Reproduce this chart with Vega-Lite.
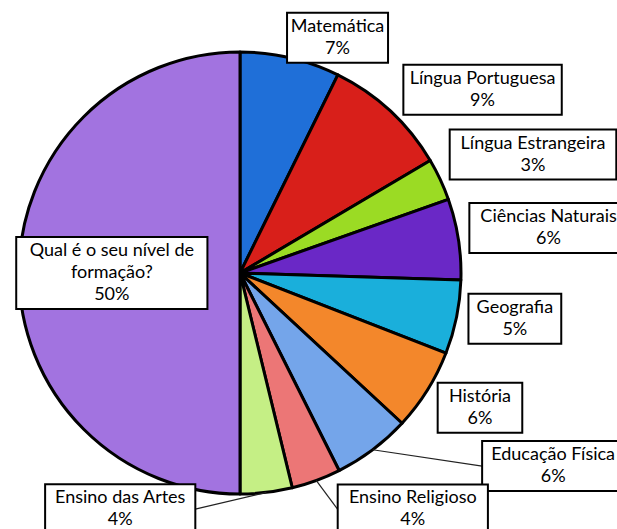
{
  "$schema": "https://vega.github.io/schema/vega-lite/v6.json",
  "width": 617,
  "height": 529,
  "padding": 0,
  "autosize": {"type": "none"},
  "background": "white",
  "config": {"view": {"stroke": null}},
  "data": {
    "values": [
      {"cat": "Matemática", "value": 7.3},
      {"cat": "Língua Portuguesa", "value": 9.2},
      {"cat": "Língua Estrangeira", "value": 3.1},
      {"cat": "Ciências Naturais", "value": 5.9},
      {"cat": "Geografia", "value": 5.4},
      {"cat": "História", "value": 6.0},
      {"cat": "Educação Física", "value": 5.7},
      {"cat": "Ensino Religioso", "value": 3.6},
      {"cat": "Ensino das Artes", "value": 3.8},
      {"cat": "Qual é o seu nível de\nformação?", "value": 50}
    ]
  },
  "transform": [
    {"window": [{"op": "sum", "field": "value", "as": "end"}, {"op": "row_number", "as": "i"}]},
    {"calculate": "datum.end - datum.value", "as": "start"},
    {"calculate": "(datum.start + datum.value / 2) / 100 * 2 * PI", "as": "a"},
    {"calculate": "format(datum.value / 100, '.0%')", "as": "pct"},
    {"calculate": "split(datum.cat, '\\n')", "as": "ls"},
    {"calculate": "length(datum.ls) + 1", "as": "nl"},
    {"calculate": "length(datum.ls[0]) * 8.2 + 19", "as": "w"},
    {"calculate": "datum.nl * 22 + 6", "as": "h"},
    {"calculate": "datum.cat + '\\n' + datum.pct", "as": "txt"},
    {"calculate": "[34, 33, 10, 4, 5, 10, 133, 68, -156, 0][datum.i - 1]", "as": "nx"},
    {"calculate": "[12, 3, -11, -6, -5, 0, -10, -2, -16, 0][datum.i - 1]", "as": "ny"},
    {"calculate": "datum.value > 25 ? 0.58 * 221 * sin(datum.a) : (229 + datum.w / 2) * sin(datum.a) + datum.nx", "as": "bx"},
    {"calculate": "datum.value > 25 ? -0.58 * 221 * cos(datum.a) : -(229 + datum.h / 2) * cos(datum.a) + datum.ny", "as": "by"},
    {"calculate": "datum.by - (datum.nl - 1) * 11", "as": "ty"},
    {"calculate": "datum.bx - datum.w / 2", "as": "bx1"},
    {"calculate": "datum.bx + datum.w / 2", "as": "bx2"},
    {"calculate": "datum.by - datum.h / 2", "as": "by1"},
    {"calculate": "datum.by + datum.h / 2", "as": "by2"},
    {"calculate": "221 * sin(datum.a)", "as": "ex"},
    {"calculate": "-221 * cos(datum.a)", "as": "ey"},
    {"calculate": "datum.bx > datum.ex ? datum.bx1 : datum.bx2", "as": "lx"},
    {"calculate": "abs(datum.nx) > 50", "as": "lead"}
  ],
  "layer": [
    {
      "mark": {"type": "arc", "outerRadius": 221, "stroke": "black", "strokeWidth": 3, "strokeJoin": "round"},
      "encoding": {
        "theta": {"field": "start", "type": "quantitative", "scale": {"domain": [0, 100]}},
        "theta2": {"field": "end"},
        "x": {"datum": 0, "type": "quantitative", "axis": null, "scale": {"domain": [-240, 377], "nice": false, "zero": false}},
        "y": {"datum": 0, "type": "quantitative", "axis": null, "scale": {"domain": [-273, 256], "nice": false, "zero": false, "reverse": true}},
        "color": {
          "field": "cat",
          "type": "nominal",
          "legend": null,
          "scale": {
            "domain": ["Matemática", "Língua Portuguesa", "Língua Estrangeira", "Ciências Naturais", "Geografia", "História", "Educação Física", "Ensino Religioso", "Ensino das Artes", "Qual é o seu nível de\nformação?"],
            "range": ["#1f6fd8", "#d81f1a", "#9bdb24", "#6a28c6", "#1aafdb", "#f3872b", "#74a5ea", "#ec7676", "#c5ef85", "#a273e0"]
          }
        }
      }
    },
    {
      "transform": [{"filter": "datum.lead"}],
      "mark": {"type": "rule", "stroke": "#222222", "strokeWidth": 1.2},
      "encoding": {
        "x": {"field": "ex", "type": "quantitative", "axis": null, "scale": {"domain": [-240, 377], "nice": false, "zero": false}},
        "y": {"field": "ey", "type": "quantitative", "axis": null, "scale": {"domain": [-273, 256], "nice": false, "zero": false, "reverse": true}},
        "x2": {"field": "lx"},
        "y2": {"field": "by"}
      }
    },
    {
      "mark": {"type": "rect", "fill": "white", "stroke": "black", "strokeWidth": 2},
      "encoding": {
        "x": {"field": "bx1", "type": "quantitative", "axis": null, "scale": {"domain": [-240, 377], "nice": false, "zero": false}},
        "x2": {"field": "bx2"},
        "y": {"field": "by1", "type": "quantitative", "axis": null, "scale": {"domain": [-273, 256], "nice": false, "zero": false, "reverse": true}},
        "y2": {"field": "by2"}
      }
    },
    {
      "mark": {"type": "text", "font": "Lato", "fontSize": 18, "lineHeight": 22, "lineBreak": "\n", "align": "center", "baseline": "middle", "color": "black"},
      "encoding": {
        "x": {"field": "bx", "type": "quantitative", "axis": null, "scale": {"domain": [-240, 377], "nice": false, "zero": false}},
        "y": {"field": "ty", "type": "quantitative", "axis": null, "scale": {"domain": [-273, 256], "nice": false, "zero": false, "reverse": true}},
        "text": {"field": "txt"}
      }
    }
  ]
}
